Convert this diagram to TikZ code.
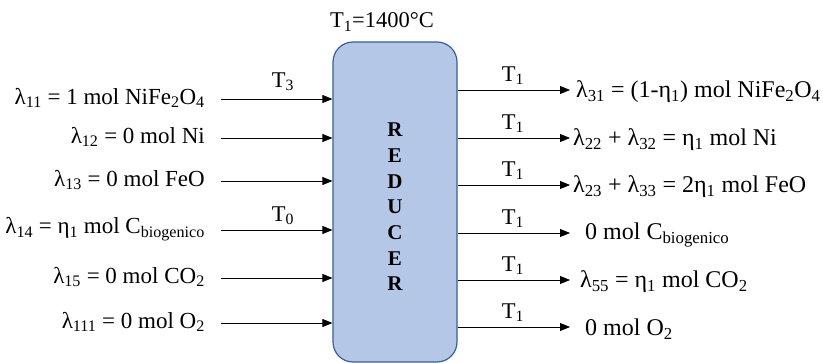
\documentclass[tikz,border=0pt]{standalone}
\usepackage{fontspec}
\setmainfont{Liberation Serif}
\usetikzlibrary{arrows.meta}
\definecolor{boxfill}{HTML}{B4C7E7}
\definecolor{boxline}{HTML}{3A5E96}
\begin{document}
\begin{tikzpicture}[x=1pt,y=-1pt,
  txt/.style={font=\fontsize{23}{26}\selectfont, inner sep=0pt},
  rtxt/.style={font=\fontsize{24}{27}\selectfont, inner sep=0pt},
  tlab/.style={font=\fontsize{22.5}{26}\selectfont, inner sep=0pt},
  flow/.style={draw=black, line width=0.8pt, -{Triangle[length=10pt,width=8pt]}}]
\useasboundingbox (0,0) rectangle (823,363);
\node[draw=boxline, fill=boxfill, line width=1.2pt, rounded corners=20pt,
      minimum width=124pt, minimum height=320pt, inner sep=0pt] (box) at (395,202) {};
\node[font=\fontsize{21}{25.7}\selectfont\bfseries, align=center, inner sep=0pt] (lbl) at (395,207)
  {R\\E\\D\\U\\C\\E\\R};
\node[font=\fontsize{22.5}{26}\selectfont, inner sep=0pt] (title) at (382,22) {T\textsubscript{1}=1400°C};
% inputs
\foreach \i/\y in {1/99,2/138,3/181,4/230,5/278,6/323}{
  \coordinate (i\i) at (221,\y);
}
\node[txt, anchor=east] (l1) at (205,98) {λ\textsubscript{11} = 1 mol NiFe\textsubscript{2}O\textsubscript{4}};
\node[txt, anchor=east] (l2) at (205,137) {λ\textsubscript{12} = 0 mol Ni};
\node[txt, anchor=east] (l3) at (205,180) {λ\textsubscript{13} = 0 mol FeO};
\node[txt, anchor=east] (l4) at (205,229) {λ\textsubscript{14} = η\textsubscript{1} mol C\textsubscript{biogenico}};
\node[txt, anchor=east] (l5) at (205,277) {λ\textsubscript{15} = 0 mol CO\textsubscript{2}};
\node[txt, anchor=east] (l6) at (205,322) {λ\textsubscript{111} = 0 mol O\textsubscript{2}};
\foreach \i in {1,...,6}{ \draw[flow] (i\i) -- (i\i -| box.west); }
\node[tlab] (t3) at (283,82) {T\textsubscript{3}};
\node[tlab] (t0) at (283,216) {T\textsubscript{0}};
% outputs
\foreach \i/\y in {1/90,2/138,3/185,4/233,5/280,6/327}{
  \coordinate (o\i) at (570,\y);
  \draw[flow] (o\i -| box.east) -- (o\i);
  \node[tlab] (t1\i) at (513,\y-14) {T\textsubscript{1}};
}
\node[rtxt, anchor=west] (r1) at (576,92) {λ\textsubscript{31} = (1-η\textsubscript{1}) mol NiFe\textsubscript{2}O\textsubscript{4}};
\node[rtxt, anchor=west] (r2) at (573,140) {λ\textsubscript{22} + λ\textsubscript{32} = η\textsubscript{1} mol Ni};
\node[rtxt, anchor=west] (r3) at (573,187) {λ\textsubscript{23} + λ\textsubscript{33} = 2η\textsubscript{1} mol FeO};
\node[rtxt, anchor=west] (r4) at (585,235) {0 mol C\textsubscript{biogenico}};
\node[rtxt, anchor=west] (r5) at (580,282) {λ\textsubscript{55} = η\textsubscript{1} mol CO\textsubscript{2}};
\node[rtxt, anchor=west] (r6) at (585,329) {0 mol O\textsubscript{2}};
\end{tikzpicture}
\end{document}
